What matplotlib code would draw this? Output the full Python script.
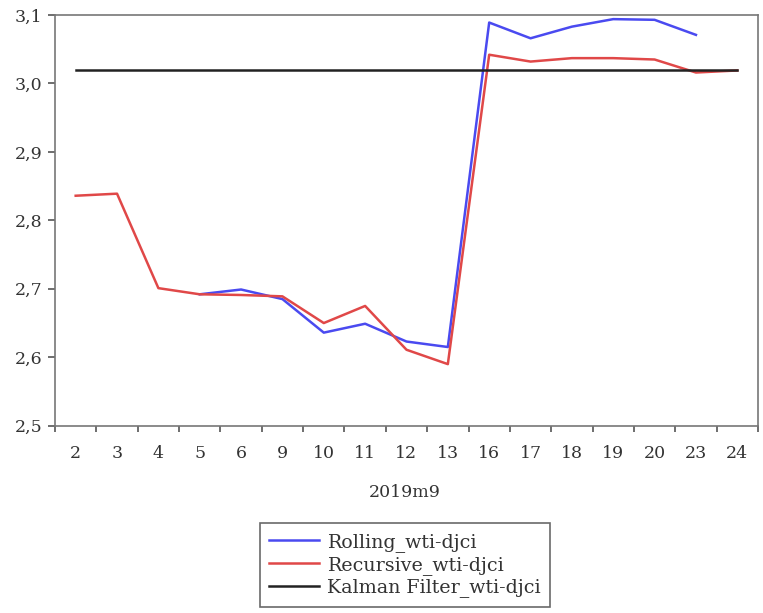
import matplotlib
matplotlib.use("Agg")
import matplotlib.pyplot as plt
import numpy as np
from matplotlib.ticker import FixedLocator, FuncFormatter

days = ["2", "3", "4", "5", "6", "9", "10", "11", "12", "13", "16", "17", "18", "19", "20", "23", "24"]
rolling = [None, None, None, 2.692, 2.699, 2.685, 2.636, 2.649, 2.623, 2.615,
           3.089, 3.066, 3.083, 3.094, 3.093, 3.071, None]
recursive = [2.836, 2.839, 2.701, 2.692, 2.691, 2.689, 2.650, 2.675, 2.611, 2.590,
             3.042, 3.032, 3.037, 3.037, 3.035, 3.016, 3.019]
kalman = [3.020] * 17
yticks = [2.5, 2.6, 2.7, 2.8, 2.9, 3.0, 3.1]

plt.rcParams['font.family'] = ['DejaVu Serif']

fig = plt.figure(figsize=(7.63, 6.13), dpi=100)
ax = fig.add_axes([0.0721, 0.3055, 0.9213, 0.670])

x = np.arange(len(days))
roll = np.array([np.nan if v is None else v for v in rolling], dtype=float)
ax.plot(x, roll, color="#4a4af0", lw=1.8, label="Rolling_wti-djci")
ax.plot(x, recursive, color="#e04848", lw=1.8, label="Recursive_wti-djci")
ax.plot(x, kalman, color="#222222", lw=1.8, label="Kalman Filter_wti-djci")

ax.set_xlim(-0.5, len(days) - 0.5)
ax.set_ylim(2.5, 3.1)

ax.xaxis.set_major_locator(FixedLocator(np.arange(-0.5, len(days), 1.0)))
ax.xaxis.set_major_formatter(FuncFormatter(lambda v, p: ""))
ax.xaxis.set_minor_locator(FixedLocator(x))
ax.set_xticklabels(days, minor=True)
ax.tick_params(axis="x", which="minor", length=0, labelsize=12.5, colors="#333333", pad=14)
ax.tick_params(axis="x", which="major", length=4.5, width=1.2, color="#555555", direction="out")

ax.set_yticks(yticks)
ax.set_yticklabels([f"{v:.1f}".replace(".", ",") for v in yticks])
ax.tick_params(axis="y", length=5, width=1.2, color="#555555", labelsize=12.5, labelcolor="#333333", pad=4)

for s in ax.spines.values():
    s.set_color("#777777")
    s.set_linewidth(1.2)

fig.text(0.531, 0.197, "2019m9", ha="center", va="center", fontsize=12.5, color="#333333")

leg = fig.legend(loc="center", bbox_to_anchor=(0.531, 0.078), fontsize=13.7, frameon=True,
                 fancybox=False, edgecolor="#444444", handlelength=2.6, borderpad=0.5,
                 labelspacing=0.2, handletextpad=0.45)
leg.get_frame().set_linewidth(1.2)
for t in leg.get_texts():
    t.set_color("#333333")

fig.savefig("out.png", dpi=100)
